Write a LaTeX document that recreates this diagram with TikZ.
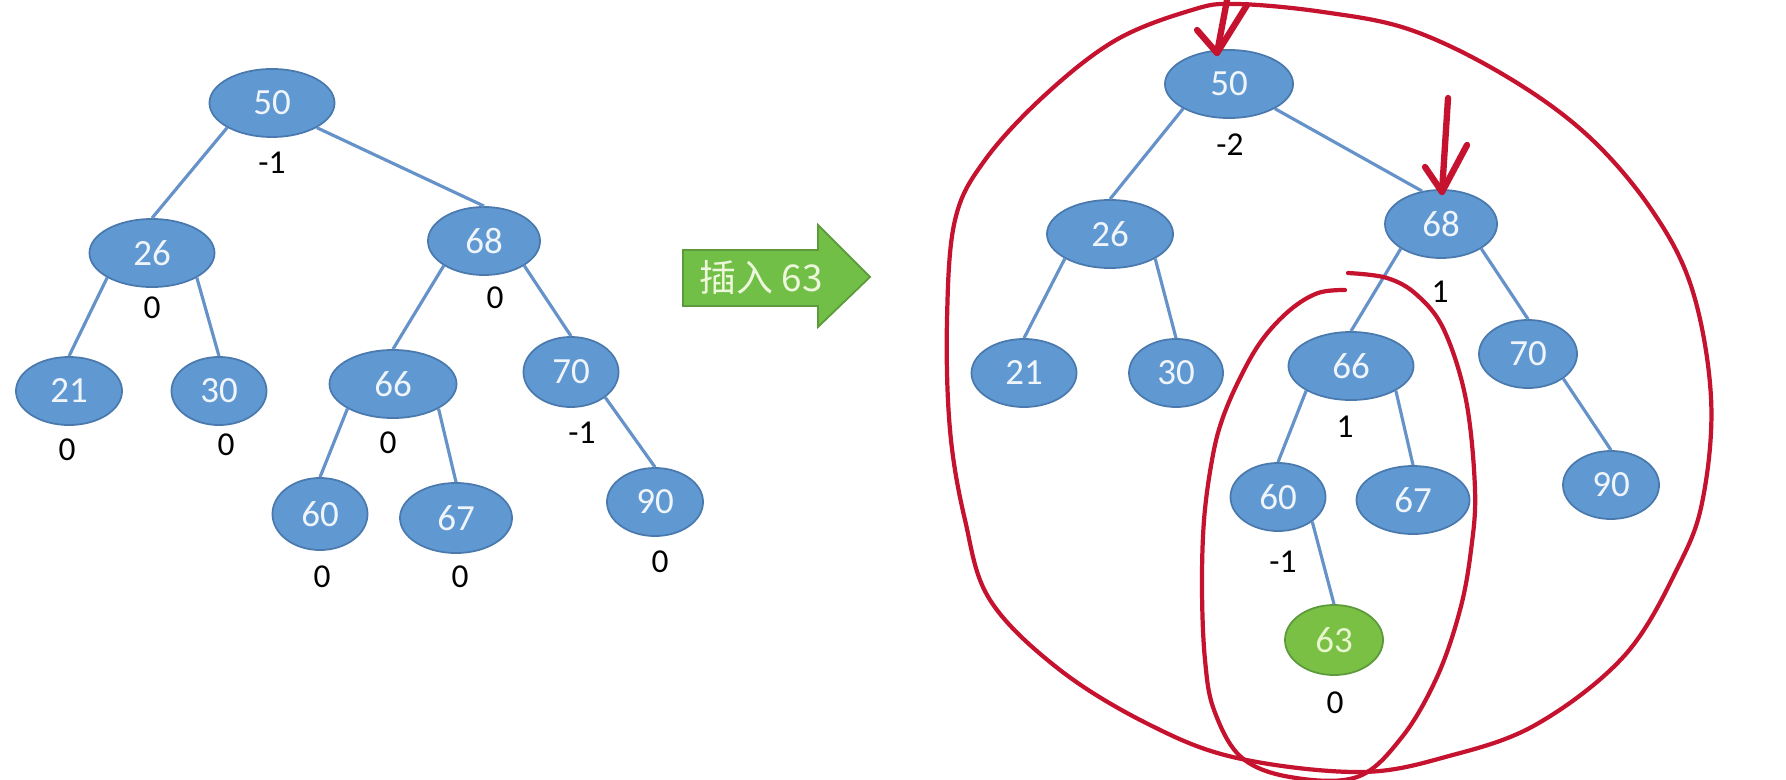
\documentclass[tikz,border=0pt]{standalone}
\usepackage{fontspec}
\setmainfont{Carlito}
\newfontfamily\cjk{Noto Sans CJK SC}
\usetikzlibrary{shapes.geometric}
\definecolor{nodeblue}{HTML}{6099D2}
\definecolor{nodeline}{HTML}{4A79AE}
\definecolor{linkblue}{HTML}{6592C8}
\definecolor{leafgreen}{HTML}{79C044}
\definecolor{leafline}{HTML}{5C9A3C}
\definecolor{arrowgreen}{HTML}{72BF47}
\definecolor{pen}{HTML}{C5122F}
\begin{document}
\begin{tikzpicture}[x=0.01cm, y=-0.01cm,
  bnode/.style={ellipse, draw=nodeline, line width=0.5pt, fill=nodeblue, text={rgb,255:red,240;green,245;blue,251},
    minimum height=0.68cm, minimum width=1.25cm, inner sep=0pt, font=\fontsize{10.5}{12}\selectfont},
  gnode/.style={bnode, draw=leafline, fill=leafgreen, text={rgb,255:red,232;green,246;blue,206}},
  bf/.style={inner sep=0pt, font=\fontsize{9.5}{11}\selectfont},
  link/.style={draw=linkblue, line width=0.9pt},
  redpen/.style={draw=pen, line width=1.2pt, line cap=round, line join=round},
  redarrow/.style={draw=pen, line width=1.8pt, line cap=round, line join=round}]
  \useasboundingbox (0,0) rectangle (1786,779);

  % tree before the insertion
  \node[bnode] (l50) at (272,103) {50};
  \node[bnode] (l26) at (152,253) {26};
  \node[bnode, minimum width=1.12cm] (l68) at (484,241) {68};
  \node[bnode, minimum width=1.06cm] (l21) at (69,391) {21};
  \node[bnode, minimum width=0.95cm] (l30) at (219,391) {30};
  \node[bnode, minimum width=1.27cm] (l66) at (393,384) {66};
  \node[bnode, minimum width=0.95cm, minimum height=0.7cm] (l70) at (571,372) {70};
  \node[bnode, minimum width=0.95cm, minimum height=0.72cm] (l60) at (320,514) {60};
  \node[bnode, minimum width=1.12cm, minimum height=0.7cm] (l67) at (456,518) {67};
  \node[bnode, minimum width=0.96cm] (l90) at (655,502) {90};
  \draw[link] (l50.south west) -- (l26.north);
  \draw[link] (l50.south east) -- (l68.north);
  \draw[link] (l26.south west) -- (l21.north);
  \draw[link] (l26.south east) -- (l30.north);
  \draw[link] (l68.south west) -- (l66.north);
  \draw[link] (l68.south east) -- (l70.north);
  \draw[link] (l66.south west) -- (l60.north);
  \draw[link] (l66.south east) -- (l67.north);
  \draw[link] (l70.south east) -- (l90.north);
  \node[bf] (lf50) at (272,163) {-1};
  \node[bf] (lf26) at (152,308) {0};
  \node[bf] (lf68) at (495,298) {0};
  \node[bf] (lf21) at (67,450) {0};
  \node[bf] (lf30) at (226,445) {0};
  \node[bf] (lf66) at (388,443) {0};
  \node[bf] (lf70) at (582,433) {-1};
  \node[bf] (lf60) at (322,577) {0};
  \node[bf] (lf67) at (460,577) {0};
  \node[bf] (lf90) at (660,562) {0};

  % the big green arrow
  \filldraw[fill=arrowgreen, draw=leafline, line width=0.5pt]
    (683,250) -- (818,250) -- (818,225) -- (870,277) -- (818,327) -- (818,306) -- (683,306) -- cycle;
  \node[inner sep=0pt, text={rgb,255:red,236;green,247;blue,220}, font=\cjk\fontsize{10.5}{13}\selectfont] (ins) at (761,277) {插入 63};

  % tree after the insertion
  \node[bnode, minimum width=1.28cm] (r50) at (1229,84) {50};
  \node[bnode, minimum width=1.26cm] (r26) at (1110,234) {26};
  \node[bnode, minimum width=1.12cm] (r68) at (1441,224) {68};
  \node[bnode, minimum width=1.05cm] (r21) at (1024,373) {21};
  \node[bnode, minimum width=0.94cm] (r30) at (1176,373) {30};
  \node[bnode] (r66) at (1351,366) {66};
  \node[bnode, minimum width=0.98cm] (r70) at (1528,354) {70};
  \node[bnode, minimum width=0.95cm] (r60) at (1278,497) {60};
  \node[bnode, minimum width=1.13cm] (r67) at (1413,500) {67};
  \node[bnode, minimum width=0.96cm] (r90) at (1611,485) {90};
  \node[gnode, minimum width=0.98cm, minimum height=0.7cm] (r63) at (1334,640) {63};
  \draw[link] (r50.south west) -- (r26.north);
  \draw[link] (r50.south east) -- (r68.120);
  \draw[link] (r26.south west) -- (r21.north);
  \draw[link] (r26.south east) -- (r30.north);
  \draw[link] (r68.south west) -- (r66.north);
  \draw[link] (r68.south east) -- (r70.north);
  \draw[link] (r66.south west) -- (r60.north);
  \draw[link] (r66.south east) -- (r67.north);
  \draw[link] (r70.south east) -- (r90.north);
  \draw[link] (r60.south east) -- (r63.north);
  \node[bf] (rf50) at (1230,145) {-2};
  \node[bf] (rf68) at (1440,292) {1};
  \node[bf] (rf66) at (1345,427) {1};
  \node[bf] (rf60) at (1283,562) {-1};
  \node[bf] (rf63) at (1335,703) {0};

  % red pen marks
  \draw[redpen] plot[smooth cycle, tension=0.6] coordinates {
    (1236,4) (1323,12) (1411,30) (1504,75) (1586,134) (1651,209) (1692,289)
    (1711,398) (1703,498) (1679,565) (1625,655) (1537,724) (1449,756) (1360,772)
    (1237,758) (1150,725) (1060,670) (990,600) (965,520) (950,430) (947,320)
    (955,220) (985,160) (1045,95) (1116,40) (1192,10)};
  \draw[redpen] plot[smooth, tension=0.6] coordinates {
    (1345,290) (1318,293) (1290,310) (1262,340) (1240,378) (1222,420) (1212,460)
    (1204,520) (1202,590) (1205,660) (1214,710) (1241,757) (1290,777) (1357,777)
    (1402,737) (1437,677) (1460,610) (1471,550) (1475,490) (1466,400) (1444,330)
    (1417,295) (1387,278) (1348,273)};
  \draw[redarrow] (1227,0) -- (1217,53);
  \draw[redarrow] (1197,30) -- (1217,53) -- (1247,5);
  \draw[redarrow] (1448,98) -- (1442,192);
  \draw[redarrow] (1425,167) -- (1442,192) -- (1467,145);
\end{tikzpicture}
\end{document}
